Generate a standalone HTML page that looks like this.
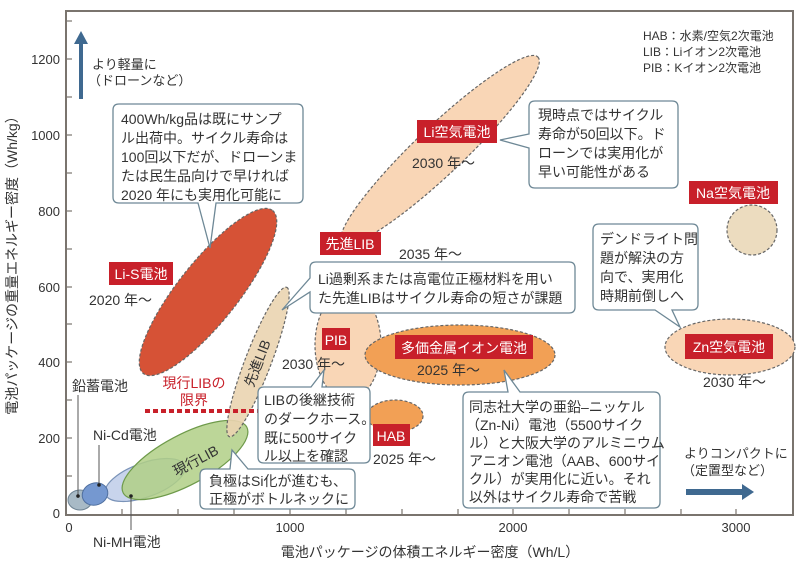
<!DOCTYPE html>
<html><head><meta charset="utf-8"><style>
body{margin:0;background:#fff;}
svg text{font-family:"Liberation Sans","Noto Sans CJK JP",sans-serif;}
</style></head><body>
<svg width="800" height="563" viewBox="0 0 800 563" xmlns="http://www.w3.org/2000/svg">
<rect width="800" height="563" fill="#fff"/>
<!-- frame -->
<path d="M66 11 H793 V515 H66 Z" fill="none" stroke="#7a746e" stroke-width="2"/>
<g stroke="#7a746e" stroke-width="1.2">
<line x1="66" y1="476" x2="72" y2="476"/><line x1="66" y1="438" x2="72" y2="438"/><line x1="66" y1="400" x2="72" y2="400"/>
<line x1="66" y1="362" x2="72" y2="362"/><line x1="66" y1="324" x2="72" y2="324"/><line x1="66" y1="287" x2="72" y2="287"/>
<line x1="66" y1="249" x2="72" y2="249"/><line x1="66" y1="211" x2="72" y2="211"/><line x1="66" y1="173" x2="72" y2="173"/>
<line x1="66" y1="135" x2="72" y2="135"/><line x1="66" y1="97" x2="72" y2="97"/><line x1="66" y1="59" x2="72" y2="59"/><line x1="66" y1="21" x2="72" y2="21"/>
<line x1="122" y1="515" x2="122" y2="509"/><line x1="178" y1="515" x2="178" y2="509"/><line x1="234" y1="515" x2="234" y2="509"/>
<line x1="290" y1="515" x2="290" y2="509"/><line x1="346" y1="515" x2="346" y2="509"/><line x1="402" y1="515" x2="402" y2="509"/>
<line x1="458" y1="515" x2="458" y2="509"/><line x1="513" y1="515" x2="513" y2="509"/><line x1="569" y1="515" x2="569" y2="509"/>
<line x1="625" y1="515" x2="625" y2="509"/><line x1="681" y1="515" x2="681" y2="509"/><line x1="736" y1="515" x2="736" y2="509"/>
</g>
<g font-size="13" fill="#333" text-anchor="end">
<text x="60" y="518">0</text><text x="60" y="443">200</text><text x="60" y="367">400</text><text x="60" y="292">600</text>
<text x="60" y="216">800</text><text x="60" y="140">1000</text><text x="60" y="64">1200</text>
</g>
<g font-size="13" fill="#333" text-anchor="middle">
<text x="69" y="532">0</text><text x="290" y="532">1000</text><text x="513" y="532">2000</text><text x="736" y="532">3000</text>
</g>
<text x="430" y="557" font-size="14" fill="#333" text-anchor="middle">電池パッケージの体積エネルギー密度（Wh/L）</text>
<text transform="translate(17,262) rotate(-90)" font-size="14" fill="#333" text-anchor="middle">電池パッケージの重量エネルギー密度（Wh/kg）</text>

<!-- arrows -->
<path d="M79 99 V44 H74 L81 31 L88 44 H83 V99 Z" fill="#3f6990"/>
<text x="92" y="69" font-size="13" fill="#333">より軽量に</text>
<text x="88" y="85" font-size="13" fill="#333">（ドローンなど）</text>
<path d="M686 489 H742 V484 L754 492 L742 500 V495 H686 Z" fill="#3f6990"/>
<text x="684" y="458" font-size="13" fill="#333">よりコンパクトに</text>
<text x="682" y="475" font-size="13" fill="#333">（定置型など）</text>

<text x="643" y="40" font-size="12" fill="#333">HAB：水素/空気2次電池</text>
<text x="643" y="56" font-size="12" fill="#333">LIB：Liイオン2次電池</text>
<text x="643" y="72" font-size="12" fill="#333">PIB：Kイオン2次電池</text>

<!-- ellipses -->
<g stroke="#666" stroke-dasharray="3,2" stroke-width="1.2">
<ellipse cx="440" cy="150" rx="135" ry="24" transform="rotate(-43.5 440 150)" fill="#f9d6b6"/>
<ellipse cx="208" cy="292" rx="104" ry="30" transform="rotate(-51.6 208 292)" fill="#d65236"/>
<ellipse cx="348" cy="345" rx="33" ry="55" fill="#f9d6b6"/>
<ellipse cx="395" cy="416" rx="28" ry="16" fill="#f2a055"/>
<ellipse cx="460" cy="355" rx="95" ry="30" fill="#f2a055"/>
<circle cx="752" cy="230" r="25" fill="#ecdcbf"/>
<ellipse cx="730" cy="347" rx="65" ry="28" fill="#f9d6b6"/>
</g>
<ellipse cx="145" cy="480" rx="42" ry="17" transform="rotate(-20 145 480)" fill="#c8d4ec" stroke="#7a93b8" stroke-width="1.2"/>
<ellipse cx="185" cy="460" rx="70" ry="25" transform="rotate(-28 185 460)" fill="#b0cf86" fill-opacity="0.85" stroke="#6e9a4a" stroke-width="1.2"/>
<ellipse cx="258" cy="362" rx="80" ry="13" transform="rotate(-69 258 362)" fill="#ead4b0" fill-opacity="0.9" stroke="#666" stroke-dasharray="3,2" stroke-width="1.2"/>
<ellipse cx="80" cy="500" rx="12" ry="10" fill="#a8bac6" stroke="#6f8494" stroke-width="1"/>
<ellipse cx="95" cy="494" rx="13" ry="11" transform="rotate(-20 95 494)" fill="#7598d0" stroke="#4f6f9f" stroke-width="1"/>
<text transform="translate(198,465) rotate(-28)" font-size="14" fill="#333" text-anchor="middle">現行LIB</text>
<text transform="translate(262,365) rotate(-69)" font-size="14" fill="#333" text-anchor="middle">先進LIB</text>

<!-- red dashed -->
<line x1="145" y1="411" x2="262" y2="411" stroke="#c8202a" stroke-width="4" stroke-dasharray="5,3"/>
<text x="194" y="388" font-size="14" fill="#c8202a" text-anchor="middle">現行LIBの</text>
<text x="194" y="405" font-size="14" fill="#c8202a" text-anchor="middle">限界</text>

<!-- small pointers -->
<g stroke="#555" stroke-width="1"><line x1="78" y1="498" x2="78" y2="395"/><line x1="99" y1="486" x2="99" y2="445"/><line x1="131" y1="497" x2="131" y2="530"/></g>
<g fill="#222"><circle cx="78" cy="496" r="1.8"/><circle cx="99" cy="485" r="1.8"/><circle cx="131" cy="496" r="1.8"/></g>
<text x="72" y="391" font-size="14" fill="#333">鉛蓄電池</text>
<text x="93" y="440" font-size="14" fill="#333">Ni-Cd電池</text>
<text x="93" y="547" font-size="14" fill="#333">Ni-MH電池</text>

<!-- red labels -->
<g fill="#c8202a">
<rect x="109" y="262" width="64" height="23"/><rect x="417" y="120" width="80" height="23"/><rect x="320" y="232" width="61" height="23"/>
<rect x="689" y="181" width="89" height="23"/><rect x="322" y="328" width="28" height="22"/><rect x="395" y="335" width="138" height="24"/>
<rect x="685" y="334" width="88" height="25"/><rect x="373" y="424" width="37" height="22"/>
</g>
<g fill="#fff" font-size="14" text-anchor="middle">
<text x="141" y="279">Li-S電池</text><text x="457" y="137">Li空気電池</text><text x="350" y="249">先進LIB</text>
<text x="733" y="198">Na空気電池</text><text x="336" y="345">PIB</text><text x="464" y="353">多価金属イオン電池</text>
<text x="729" y="352">Zn空気電池</text><text x="391" y="441">HAB</text>
</g>
<g fill="#333" font-size="14">
<text x="89" y="305">2020 年〜</text><text x="412" y="168">2030 年〜</text><text x="399" y="259">2035 年〜</text>
<text x="282" y="369">2030 年〜</text><text x="417" y="375">2025 年〜</text><text x="373" y="464">2025 年〜</text><text x="703" y="387">2030 年〜</text>
</g>

<!-- callouts -->
<g fill="#fff" stroke="#6e8896" stroke-width="1.3">
<path d="M119 104 H297 Q303 104 303 110 V197 Q303 203 297 203 H216 L210 248 L198 203 H119 Q113 203 113 197 V110 Q113 104 119 104 Z"/>
<path d="M535 101 H672 Q678 101 678 107 V182 Q678 188 672 188 H535 Q529 188 529 182 V148 L500 140 L529 134 V107 Q529 101 535 101 Z"/>
<path d="M316 262 H569 Q575 262 575 268 V307 Q575 313 569 313 H316 Q310 313 310 307 V292 L282 310 L310 278 V268 Q310 262 316 262 Z"/>
<path d="M599 224 H692 Q698 224 698 230 V304 Q698 310 692 310 H672 L680 327 L655 310 H599 Q593 310 593 304 V230 Q593 224 599 224 Z"/>
<path d="M264 387 H311 L324 370 L322 387 H364 Q370 387 370 393 V457 Q370 463 364 463 H264 Q258 463 258 457 V393 Q258 387 264 387 Z"/>
<path d="M469 392 H508 L504 370 L520 392 H654 Q660 392 660 398 V502 Q660 508 654 508 H469 Q463 508 463 502 V398 Q463 392 469 392 Z"/>
<path d="M206 469 H230 L232 450 L248 469 H349 Q355 469 355 475 V503 Q355 509 349 509 H206 Q200 509 200 503 V475 Q200 469 206 469 Z"/>
</g>
<g fill="#333" font-size="14">
<text x="121" y="124">400Wh/kg品は既にサンプ</text>
<text x="121" y="143">ル出荷中。サイクル寿命は</text>
<text x="121" y="162">100回以下だが、ドローンま</text>
<text x="121" y="181">たは民生品向けで早ければ</text>
<text x="121" y="200">2020 年にも実用化可能に</text>
<text x="538" y="120">現時点ではサイクル</text>
<text x="538" y="139">寿命が50回以下。ド</text>
<text x="538" y="158">ローンでは実用化が</text>
<text x="538" y="177">早い可能性がある</text>
<text x="318" y="284">Li過剰系または高電位正極材料を用い</text>
<text x="318" y="303">た先進LIBはサイクル寿命の短さが課題</text>
<text x="600" y="244">デンドライト問</text>
<text x="600" y="263">題が解決の方</text>
<text x="600" y="282">向で、実用化</text>
<text x="600" y="301">時期前倒しへ</text>
<text x="264" y="405">LIBの後継技術</text>
<text x="264" y="424">のダークホース。</text>
<text x="264" y="443">既に500サイク</text>
<text x="264" y="461">ル以上を確認</text>
<text x="469" y="412">同志社大学の亜鉛–ニッケル</text>
<text x="466" y="430">（Zn-Ni）電池（5500サイク</text>
<text x="469" y="448">ル）と大阪大学のアルミニウム</text>
<text x="469" y="466">アニオン電池（AAB、600サイ</text>
<text x="469" y="484">クル）が実用化に近い。それ</text>
<text x="469" y="502">以外はサイクル寿命で苦戦</text>
<text x="209" y="486">負極はSi化が進むも、</text>
<text x="209" y="504">正極がボトルネックに</text>
</g>
</svg>
</body></html>
